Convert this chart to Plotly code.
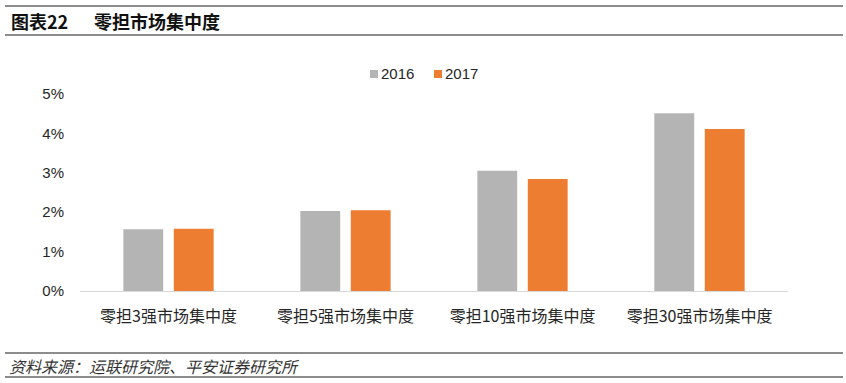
import plotly.graph_objects as go

categories = ["零担3强市场集中度", "零担5强市场集中度", "零担10强市场集中度", "零担30强市场集中度"]
series_names = ["2016", "2017"]
values_2016 = [0.0157, 0.0203, 0.0305, 0.0451]
values_2017 = [0.0158, 0.0205, 0.0284, 0.0411]
tick_vals = [0, 0.01, 0.02, 0.03, 0.04, 0.05]
tick_text = ["0%", "1%", "2%", "3%", "4%", "5%"]
colors = ["#B4B4B4", "#ED7D31"]

FONT = "Liberation Sans, Arial, Noto Sans CJK SC, sans-serif"
CJK = "Noto Sans CJK SC, sans-serif"

W, H = 846, 383
L, R, T, B = 80, 58, 94, 92


def px_x(x):
    return (x - L) / (W - L - R)


def px_y(y):
    return (H - B - y) / (H - T - B)


fig = go.Figure()
for name, vals, c in zip(series_names, [values_2016, values_2017], colors):
    fig.add_trace(go.Bar(x=categories, y=vals, name=name, marker=dict(color=c, line=dict(width=0))))

fig.update_layout(
    width=W, height=H,
    margin=dict(l=L, r=R, t=T, b=B, pad=0),
    paper_bgcolor="white", plot_bgcolor="white",
    barmode="group", bargap=0.43, bargroupgap=0.21,
    font=dict(family=FONT, size=15, color="#262626"),
    showlegend=False,
    xaxis=dict(showgrid=False, showline=True, linecolor="#D9D9D9", linewidth=1,
               ticks="", tickfont=dict(family=CJK, size=16, color="#262626"),
               ticklabelstandoff=11, fixedrange=True),
    yaxis=dict(range=[0, 0.05], tickvals=tick_vals, ticktext=tick_text,
               showgrid=False, zeroline=False, showline=False, ticks="",
               tickfont=dict(size=15, color="#262626"), ticklabelstandoff=15,
               fixedrange=True),
)

# Legend drawn manually (compact spacing as in the reference)
legend_items = [(series_names[0], colors[0], 370), (series_names[1], colors[1], 434)]
for name, c, x0 in legend_items:
    fig.add_shape(type="rect", xref="paper", yref="paper",
                  x0=px_x(x0), x1=px_x(x0 + 8), y0=px_y(78), y1=px_y(70),
                  fillcolor=c, line=dict(width=0))
    fig.add_annotation(text=name, xref="paper", yref="paper", x=px_x(x0 + 9), y=px_y(74),
                       xanchor="left", yanchor="middle", showarrow=False,
                       font=dict(family=FONT, size=15, color="#262626"))

# Header and footer rules
for y in [6, 35, 353, 377]:
    fig.add_shape(type="line", xref="paper", yref="paper",
                  x0=px_x(5), x1=px_x(843), y0=px_y(y), y1=px_y(y),
                  line=dict(color="#1a1a1a", width=1.2))

fig.add_annotation(text="<b>图表22</b>", xref="paper", yref="paper", x=px_x(9), y=px_y(21),
                   xanchor="left", yanchor="middle", showarrow=False,
                   font=dict(family=CJK, size=18, color="#111111"))
fig.add_annotation(text="<b>零担市场集中度</b>", xref="paper", yref="paper", x=px_x(92), y=px_y(21),
                   xanchor="left", yanchor="middle", showarrow=False,
                   font=dict(family=CJK, size=18, color="#111111"))
fig.add_annotation(text="<i>资料来源：运联研究院、平安证券研究所</i>", xref="paper", yref="paper",
                   x=px_x(7), y=px_y(366), xanchor="left", yanchor="middle", showarrow=False,
                   font=dict(family=CJK, size=16, color="#333333"))

fig.write_html("out.html", config={"displayModeBar": False},
               post_script="document.body.style.margin='0px';")
